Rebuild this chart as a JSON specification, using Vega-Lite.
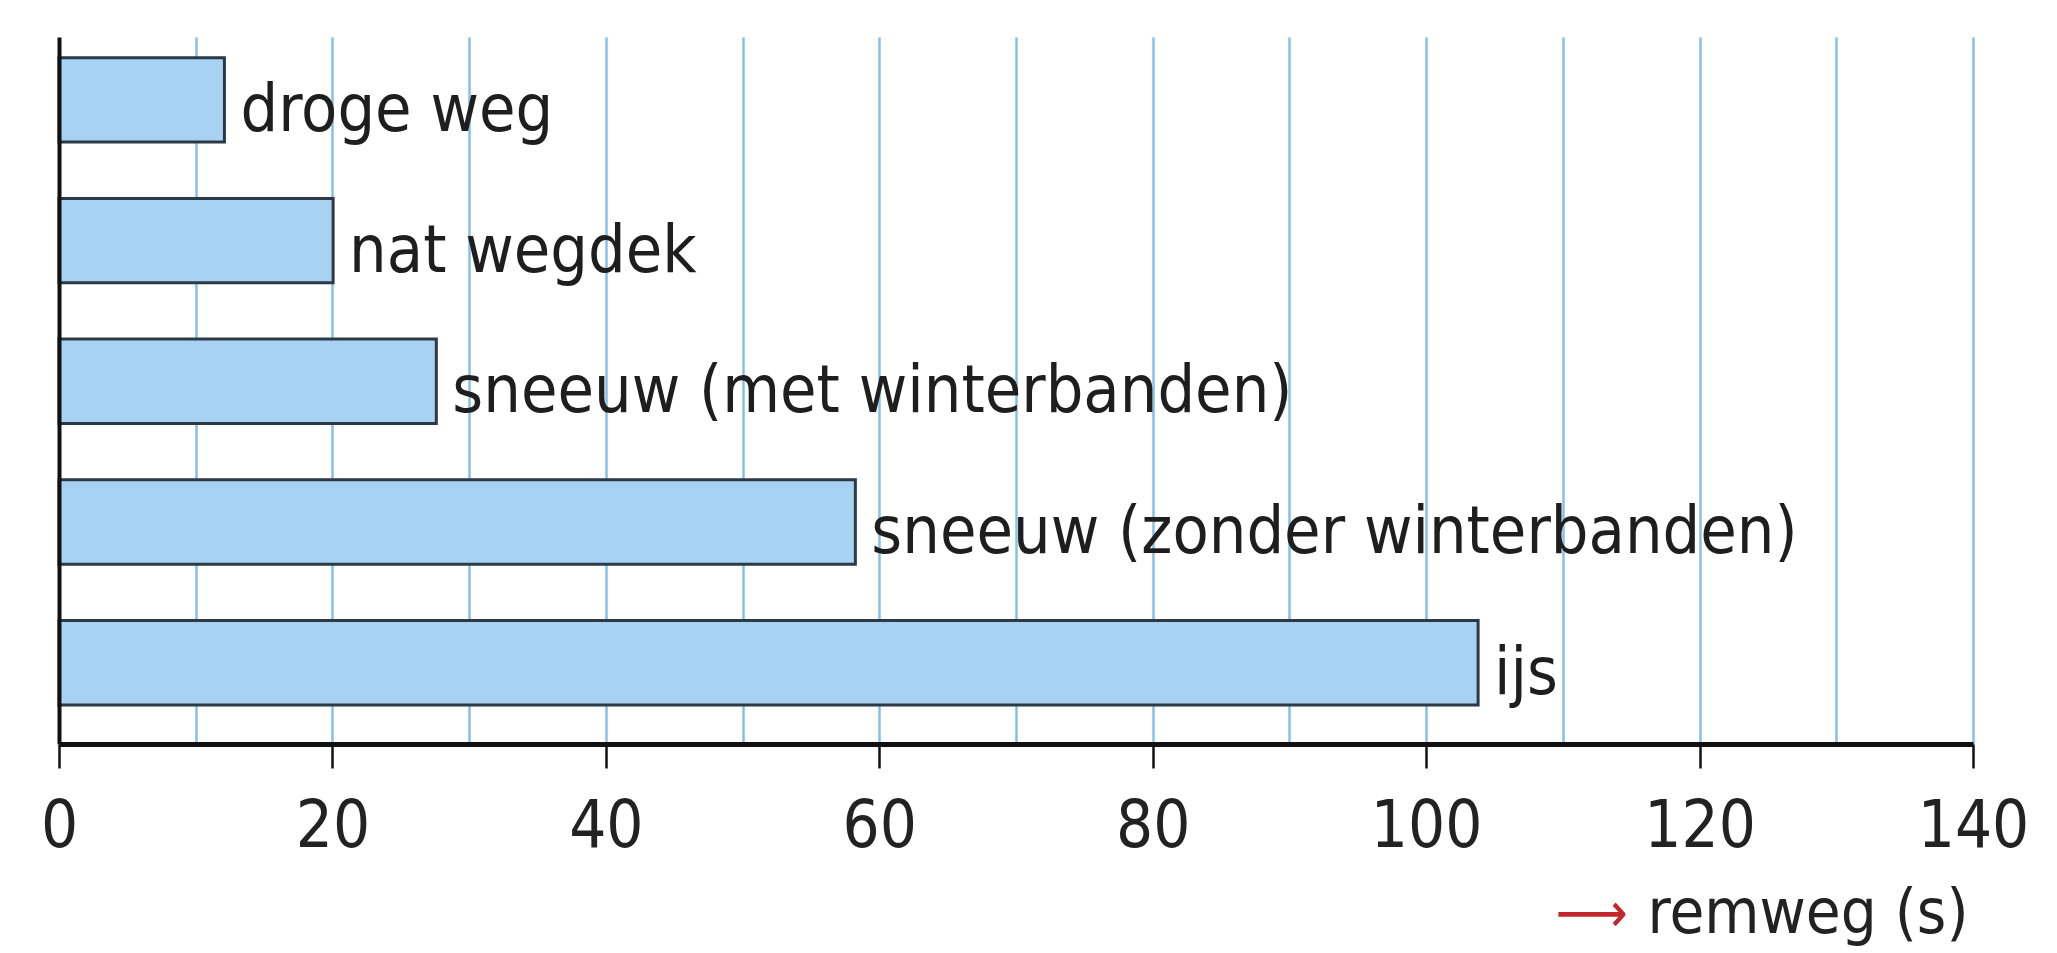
{
  "$schema": "https://vega.github.io/schema/vega-lite/v6.json",
  "width": 1914,
  "height": 707,
  "autosize": {"type": "none"},
  "padding": {"left": 59, "top": 37, "right": 84, "bottom": 209},
  "background": "white",
  "config": {"view": {"stroke": null}, "font": "DejaVu Sans Condensed, DejaVu Sans, sans-serif"},
  "data": {"values": [
    {"wegdek": "droge weg", "remweg": 12.1},
    {"wegdek": "nat wegdek", "remweg": 20.05},
    {"wegdek": "sneeuw (met winterbanden)", "remweg": 27.6},
    {"wegdek": "sneeuw (zonder winterbanden)", "remweg": 58.25},
    {"wegdek": "ijs", "remweg": 103.8}
  ]},
  "layer": [
    {
      "mark": {"type": "bar", "fill": "#a7d2f3", "stroke": "#2c3a45", "strokeWidth": 3},
      "encoding": {
        "y": {"field": "wegdek", "type": "nominal", "sort": null,
              "scale": {"paddingInner": 0.4, "paddingOuter": 0.2125, "align": 0.346},
              "axis": {"labels": false, "ticks": false, "title": null, "grid": false, "domainColor": "#111", "domainWidth": 4, "zindex": 1}},
        "x": {"field": "remweg", "type": "quantitative",
              "scale": {"domain": [0, 140], "nice": false, "zero": true},
              "axis": {"values": [0, 20, 40, 60, 80, 100, 120, 140], "grid": false, "zindex": 1,
                       "domainColor": "#111", "domainWidth": 5, "tickColor": "#111", "tickWidth": 2.5, "tickSize": 24,
                       "labelFontSize": 65, "labelColor": "#222", "labelPadding": 27, "labelFlush": false, "labelOverlap": false,
                       "title": "remweg (s)", "titleFontSize": 63, "titleFontWeight": "normal", "titleColor": "#222",
                       "titleAlign": "right", "titleAnchor": null, "titleX": 1909, "titleY": 169, "titleBaseline": "middle"}}
      }
    },
    {
      "mark": {"type": "text", "align": "left", "baseline": "middle", "dx": 16, "dy": 11, "fontSize": 66, "color": "#1e1e1e"},
      "encoding": {
        "y": {"field": "wegdek", "type": "nominal", "sort": null},
        "x": {"field": "remweg", "type": "quantitative",
              "axis": {"orient": "top", "values": [10, 20, 30, 40, 50, 60, 70, 80, 90, 100, 110, 120, 130, 140],
                       "grid": true, "gridColor": "#86c0e8", "gridWidth": 2.5, "gridOpacity": 1,
                       "domain": false, "ticks": false, "labels": false, "zindex": 0,
                       "title": "⟶", "titleFontSize": 56, "titleFontWeight": "normal", "titleColor": "#c4262e",
                       "titleAlign": "left", "titleAnchor": null, "titleX": 1496, "titleY": 877, "titleBaseline": "middle"}},
        "text": {"field": "wegdek"}
      }
    }
  ],
  "resolve": {"axis": {"x": "independent"}}
}
